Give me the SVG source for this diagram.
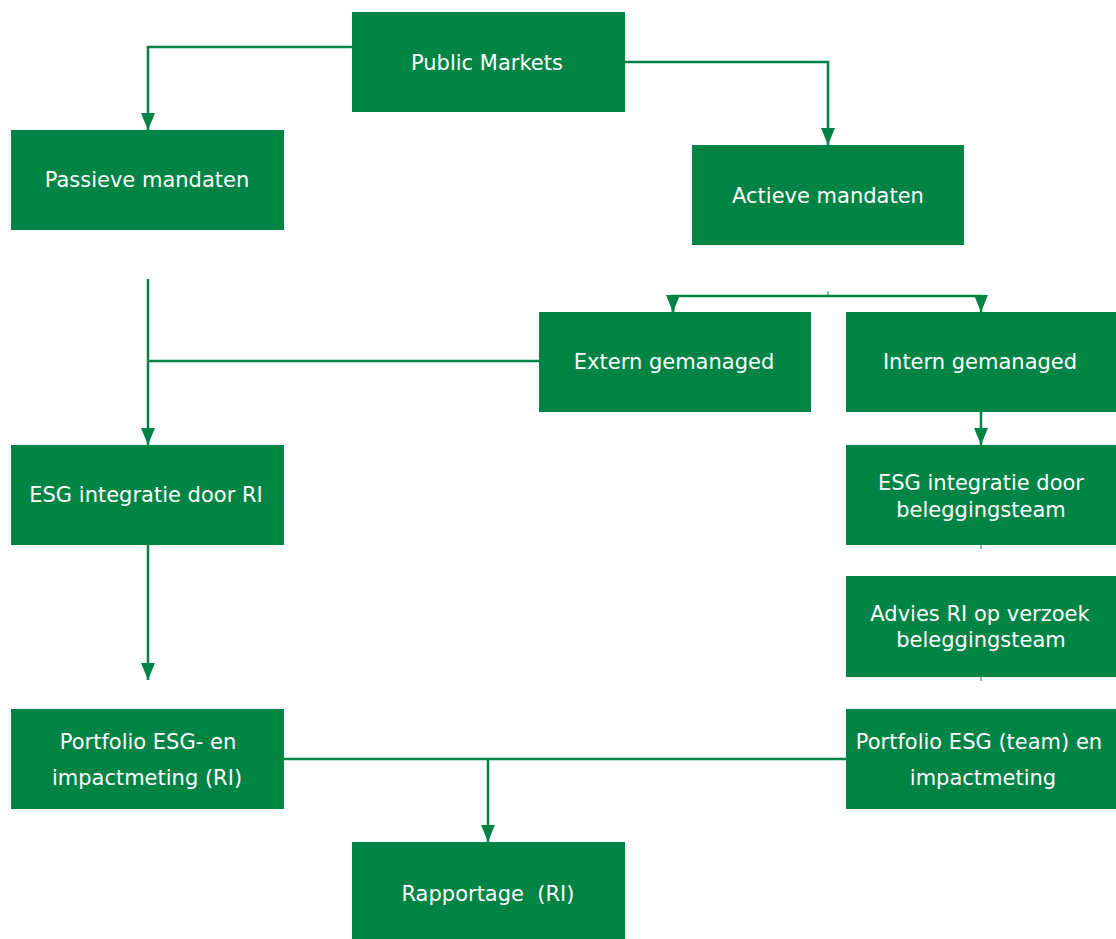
<svg xmlns="http://www.w3.org/2000/svg" width="1116" height="939" viewBox="0 0 1116 939">
<style>
.box{fill:#008445}
.t{fill:#ffffff;font-family:"DejaVu Sans","Liberation Sans",sans-serif;font-size:21px;text-anchor:middle}
.c{fill:none;stroke:#008445;stroke-width:2.5}
.s{fill:none;stroke:#008445;stroke-width:1}
</style>
<defs>
<marker id="arr" markerUnits="userSpaceOnUse" viewBox="0 0 17 14" refX="17" refY="7" markerWidth="17" markerHeight="14" orient="auto">
<path d="M0,0 L17,7 L0,14 z" fill="#008445"/>
</marker>
</defs>
<rect width="1116" height="939" fill="#ffffff"/>
<g id="connectors">
<path class="c" d="M352,47 H148 V130" marker-end="url(#arr)"/>
<path class="c" d="M625,62 H828 V145" marker-end="url(#arr)"/>
<path class="s" d="M828,291 V296"/>
<path class="c" d="M673,312 V296 H981 V312" marker-end="url(#arr)"/>
<path class="c" d="M673,296 V312" marker-end="url(#arr)"/>
<path class="c" d="M148,279 V445" marker-end="url(#arr)"/>
<path class="c" d="M539,361 H148"/>
<path class="c" d="M148,545 V680" marker-end="url(#arr)"/>
<path class="c" d="M981,412 V445" marker-end="url(#arr)"/>
<path class="s" d="M981,545 V549"/>
<path class="s" d="M981,677 V681"/>
<path class="c" d="M284,759 H846"/>
<path class="c" d="M488,759 V842" marker-end="url(#arr)"/>
</g>
<g id="public-markets"><rect class="box" x="352" y="12" width="273" height="100"/><text class="t" x="487" y="69.5">Public Markets</text></g>
<g id="passieve-mandaten"><rect class="box" x="11" y="130" width="273" height="100"/><text class="t" x="147" y="187">Passieve mandaten</text></g>
<g id="actieve-mandaten"><rect class="box" x="692" y="145" width="272" height="100"/><text class="t" x="828" y="203">Actieve mandaten</text></g>
<g id="extern-gemanaged"><rect class="box" x="539" y="312" width="272" height="100"/><text class="t" x="674" y="369">Extern gemanaged</text></g>
<g id="intern-gemanaged"><rect class="box" x="846" y="312" width="270" height="100"/><text class="t" x="980" y="369">Intern gemanaged</text></g>
<g id="esg-integratie-ri"><rect class="box" x="11" y="445" width="273" height="100"/><text class="t" x="146" y="502">ESG integratie door RI</text></g>
<g id="esg-integratie-team"><rect class="box" x="846" y="445" width="270" height="100"/><text class="t" x="981" y="490">ESG integratie door</text><text class="t" x="981" y="517">beleggingsteam</text></g>
<g id="advies-ri"><rect class="box" x="846" y="576" width="270" height="101"/><text class="t" x="980" y="621">Advies RI op verzoek</text><text class="t" x="981" y="647">beleggingsteam</text></g>
<g id="portfolio-ri"><rect class="box" x="11" y="709" width="273" height="100"/><text class="t" x="148" y="749">Portfolio ESG- en</text><text class="t" x="147" y="785">impactmeting (RI)</text></g>
<g id="portfolio-team"><rect class="box" x="846" y="709" width="270" height="100"/><text class="t" x="979" y="749">Portfolio ESG (team) en</text><text class="t" x="983" y="785">impactmeting</text></g>
<g id="rapportage"><rect class="box" x="352" y="842" width="273" height="97"/><text class="t" x="488" y="901">Rapportage&#160; (RI)</text></g>
</svg>
